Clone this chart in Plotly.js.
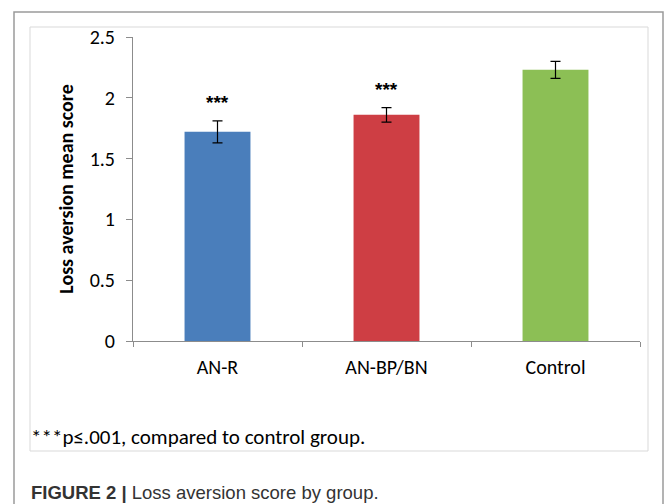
<!DOCTYPE html>
<html>
<head>
<meta charset="utf-8">
<script src="https://cdn.plot.ly/plotly-3.0.1.min.js"></script>
<style>html,body{margin:0;padding:0;background:#fff;}#chart{width:665px;height:504px;}</style>
</head>
<body>
<div id="chart"></div>
<script>
const groups = ["AN-R", "AN-BP/BN", "Control"];
const meanScores = [1.72, 1.86, 2.23];
const errors = [0.09, 0.06, 0.07];
const barColors = ["#4A7EBB", "#CE3E44", "#8CBF55"];
const significance = ["***", "***", ""];
const yTicks = [0, 0.5, 1, 1.5, 2, 2.5];
const yTickLabels = ["0", "0.5", "1", "1.5", "2", "2.5"];

const FONT = "Carlito, Calibri, Lato, 'Open Sans', sans-serif";

const trace = {
  type: "bar",
  x: groups,
  y: meanScores,
  marker: {color: barColors, line: {width: 0}},
  width: 0.39,
  error_y: {type: "data", array: errors, visible: true, color: "#000", thickness: 1.2, width: 5},
  hoverinfo: "x+y"
};

const annotations = groups.map((g, i) => ({
  x: g, y: meanScores[i] + errors[i] + 0.15,
  xref: "x", yref: "y",
  text: "<b>" + significance[i] + "</b>", showarrow: false,
  font: {family: "'Liberation Sans', Arial, sans-serif", size: 19, color: "#000"},
  yanchor: "middle"
})).filter((a, i) => significance[i]);

annotations.push({
  xref: "paper", yref: "paper",
  x: (29 - 133) / 507, y: (341 - 437) / 304,
  xanchor: "left", yanchor: "middle",
  text: "***p≤.001, compared to control group.",
  showarrow: false,
  font: {family: FONT, size: 21, color: "#000"}
});
annotations.push({
  xref: "paper", yref: "paper",
  x: (29 - 133) / 507, y: (341 - 492) / 304,
  xanchor: "left", yanchor: "middle",
  text: "<b>FIGURE 2 |</b> Loss aversion score by group.",
  showarrow: false,
  font: {family: "'Liberation Sans', Arial, sans-serif", size: 18.5, color: "#333"}
});

const layout = {
  width: 665, height: 504,
  margin: {l: 133, r: 25, t: 37, b: 163},
  paper_bgcolor: "#fff", plot_bgcolor: "#fff",
  showlegend: false,
  bargap: 0.61,
  xaxis: {
    type: "category",
    showline: true, linecolor: "#8c8c8c", linewidth: 1,
    ticks: "outside", tickson: "boundaries", ticklen: 5, tickcolor: "#8c8c8c",
    tickfont: {family: FONT, size: 20, color: "#000"},
    ticklabelstandoff: 8,
    showgrid: false, zeroline: false, fixedrange: true
  },
  yaxis: {
    range: [0, 2.5],
    tickvals: yTicks, ticktext: yTickLabels,
    showline: true, linecolor: "#8c8c8c", linewidth: 1,
    ticks: "outside", ticklen: 6, tickcolor: "#8c8c8c",
    tickfont: {family: FONT, size: 20, color: "#000"},
    ticklabelstandoff: 7,
    showgrid: false, zeroline: false, fixedrange: true,
    title: {text: "<b>Loss aversion mean score</b>", font: {family: FONT, size: 20, color: "#000"}, standoff: 10}
  },
  shapes: [
    {type: "rect", xref: "paper", yref: "paper",
     x0: (14 - 133) / 507, x1: (663 - 133) / 507,
     y0: (341 - 520) / 304, y1: (341 - 12) / 304,
     line: {color: "#9a9a9a", width: 1.5}, fillcolor: "rgba(0,0,0,0)", layer: "below"},
    {type: "rect", xref: "paper", yref: "paper",
     x0: (30 - 133) / 507, x1: (648 - 133) / 507,
     y0: (341 - 451) / 304, y1: (341 - 27) / 304,
     line: {color: "#d9d9d9", width: 1}, fillcolor: "rgba(0,0,0,0)", layer: "below"}
  ],
  annotations: annotations
};

Plotly.newPlot("chart", [trace], layout, {displayModeBar: false, staticPlot: true});
</script>
</body>
</html>
